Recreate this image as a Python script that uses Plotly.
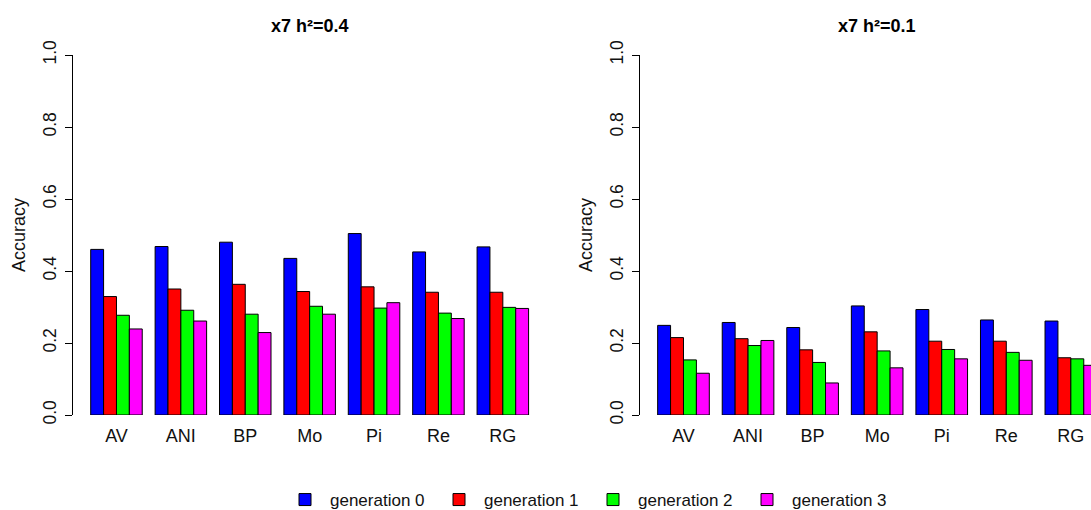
import plotly.graph_objects as go

categories = ["AV", "ANI", "BP", "Mo", "Pi", "Re", "RG"]
generations = ["generation 0", "generation 1", "generation 2", "generation 3"]
colors = ["#0000FF", "#FF0000", "#00FF00", "#FF00FF"]
y_ticks = [0.0, 0.2, 0.4, 0.6, 0.8, 1.0]
y_tick_labels = ["0.0", "0.2", "0.4", "0.6", "0.8", "1.0"]
titles = ["x7 h\u00b2=0.4", "x7 h\u00b2=0.1"]

h04_gen0 = [0.460, 0.468, 0.480, 0.435, 0.504, 0.453, 0.467]
h04_gen1 = [0.329, 0.350, 0.363, 0.343, 0.356, 0.341, 0.341]
h04_gen2 = [0.277, 0.291, 0.280, 0.302, 0.297, 0.283, 0.299]
h04_gen3 = [0.239, 0.261, 0.229, 0.280, 0.312, 0.268, 0.296]

h01_gen0 = [0.249, 0.257, 0.243, 0.303, 0.293, 0.264, 0.261]
h01_gen1 = [0.215, 0.212, 0.181, 0.231, 0.205, 0.205, 0.159]
h01_gen2 = [0.153, 0.193, 0.146, 0.178, 0.182, 0.174, 0.156]
h01_gen3 = [0.116, 0.207, 0.089, 0.131, 0.156, 0.152, 0.138]

panel_h04 = [h04_gen0, h04_gen1, h04_gen2, h04_gen3]
panel_h01 = [h01_gen0, h01_gen1, h01_gen2, h01_gen3]

W, H = 1091, 510
FONT = "Arial, Liberation Sans, Helvetica, sans-serif"

fig = go.Figure()
for i, (name, col) in enumerate(zip(generations, colors)):
    fig.add_trace(go.Bar(x=categories, y=panel_h04[i], name=name, marker_color=col,
                         marker_line=dict(color="black", width=1), xaxis="x", yaxis="y",
                         offsetgroup=str(i), legendgroup=name, showlegend=True))
for i, (name, col) in enumerate(zip(generations, colors)):
    fig.add_trace(go.Bar(x=categories, y=panel_h01[i], name=name, marker_color=col,
                         marker_line=dict(color="black", width=1), xaxis="x2", yaxis="y2",
                         offsetgroup=str(i), legendgroup=name, showlegend=False))

def px_x(p):
    return p / W

def px_y(p):
    return (H - p) / H

y_dom = [px_y(415), px_y(55)]
left_dom = [px_x(73.2), px_x(546.1)]
right_dom = [px_x(640.1), 1.0]

yaxis_common = dict(range=[0, 1], tickmode="array", tickvals=y_ticks, ticktext=y_tick_labels,
                    tickangle=-90, ticks="outside", ticklen=7, tickcolor="black", tickwidth=1,
                    showline=True, linecolor="black", linewidth=1, showgrid=False, zeroline=False,
                    tickfont=dict(family=FONT, size=17.5, color="#111"), fixedrange=True,
                    automargin=False, ticklabelstandoff=2)
xaxis_common = dict(type="category", categoryorder="array", categoryarray=categories,
                    showline=False, ticks="", showgrid=False, zeroline=False,
                    tickfont=dict(family=FONT, size=18, color="#111"), fixedrange=True,
                    automargin=False, ticklabelstandoff=8)

fig.update_layout(
    width=W, height=H,
    margin=dict(l=0, r=0, t=0, b=0, autoexpand=False),
    paper_bgcolor="white", plot_bgcolor="white",
    barmode="group", bargap=0.2, bargroupgap=0,
    xaxis=dict(domain=left_dom, range=[-0.672, 6.672], anchor="y", **xaxis_common),
    xaxis2=dict(domain=right_dom, range=[-0.672, 6.312], anchor="y2", **xaxis_common),
    yaxis=dict(domain=y_dom, anchor="x", **yaxis_common),
    yaxis2=dict(domain=y_dom, anchor="x2", **yaxis_common),
    legend=dict(orientation="h", x=px_x(588), xanchor="center", y=px_y(500), yanchor="middle",
                font=dict(family=FONT, size=17, color="#111"), traceorder="normal",
                itemwidth=40, entrywidth=99, entrywidthmode="pixels",
                bgcolor="rgba(0,0,0,0)"),
    showlegend=True,
)

annotations = [
    dict(text="<b>" + titles[0] + "</b>", x=px_x(309.7), y=px_y(26), xref="paper", yref="paper",
         showarrow=False, xanchor="center", yanchor="middle", font=dict(family=FONT, size=18, color="black")),
    dict(text="<b>" + titles[1] + "</b>", x=px_x(876.6), y=px_y(26), xref="paper", yref="paper",
         showarrow=False, xanchor="center", yanchor="middle", font=dict(family=FONT, size=18, color="black")),
    dict(text="Accuracy", x=px_x(19), y=px_y(235), xref="paper", yref="paper", textangle=-90,
         showarrow=False, xanchor="center", yanchor="middle", font=dict(family=FONT, size=18, color="#111")),
    dict(text="Accuracy", x=px_x(586), y=px_y(235), xref="paper", yref="paper", textangle=-90,
         showarrow=False, xanchor="center", yanchor="middle", font=dict(family=FONT, size=18, color="#111")),
]
fig.update_layout(annotations=annotations)

fig.write_html("out.html")
